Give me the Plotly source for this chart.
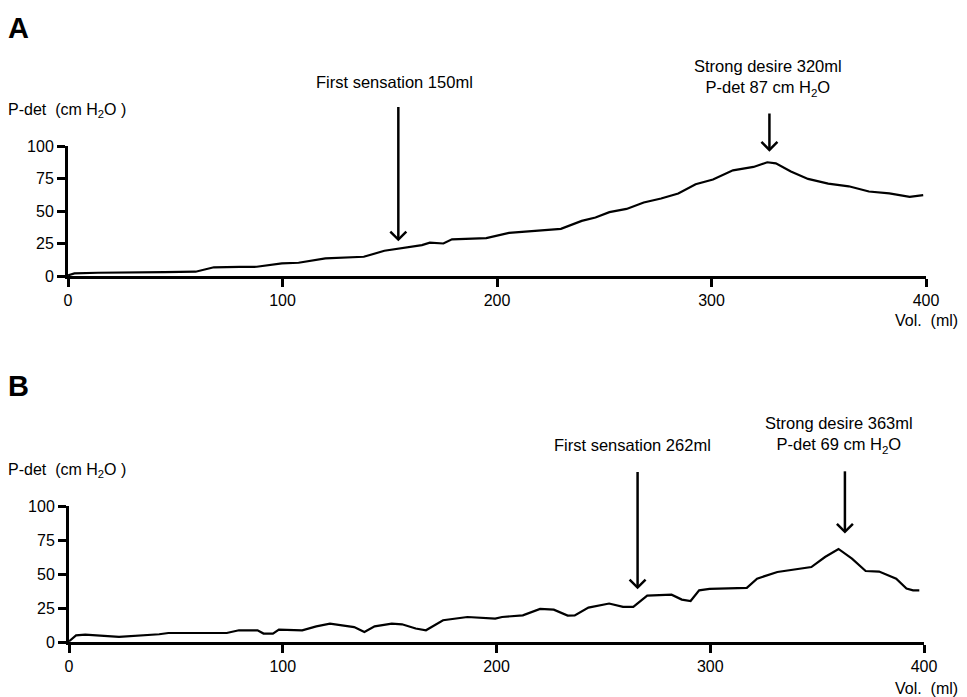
import plotly.graph_objects as go

# ---------------- data ----------------
X_TICKS = [0, 100, 200, 300, 400]
Y_TICKS = [0, 25, 50, 75, 100]
X_RANGE = [0, 400]
Y_RANGE = [0, 100]

A_vol = [0, 3, 14, 30, 45, 59.5, 68, 80, 88, 99.7, 107.5, 120, 130, 137.9, 147.5,
         157, 165, 168.7, 175, 179, 186.5, 195, 205.6, 218.6, 229.8, 239.5, 245.9,
         252.4, 260.4, 268.4, 276.5, 284.5, 292.6, 300.7, 310, 319.6, 326, 330, 337,
         345, 354.4, 364, 373.4, 382.9, 392.4, 398.7]
A_pdet = [0.5, 2, 2.5, 3, 3, 3.3, 6.7, 7, 7.1, 9.7, 10.2, 13.6, 14.2, 14.8, 19.4,
          22, 23.8, 25.6, 25, 28.2, 28.9, 29.2, 33.2, 34.8, 36.3, 42.4, 45,
          49.1, 51.6, 56.5, 59.6, 63.5, 70.6, 74.2, 81.3, 83.9, 87.5, 86.7, 80.4,
          74.7, 71.1, 69, 65, 63.5, 60.9, 62.2]

B_vol = [0, 3.3, 7.6, 23.4, 42.2, 46.5, 73.8, 79.5, 88.2, 91, 95.4, 98.2, 109.1,
         115.7, 122.1, 133.4, 138.2, 143, 151, 155.8, 162.2, 167, 175, 186.4, 199.4,
         202.6, 212.3, 220.4, 226.8, 233.3, 236.6, 243, 252.7, 259.2, 264, 270.5,
         281.9, 286.7, 290.8, 294.8, 299.7, 317.1, 321.9, 331.4, 347.3, 353.7, 360,
         366.3, 372.7, 379, 387, 391.8, 394.9, 397.8]
B_pdet = [0.5, 4.9, 5.4, 3.7, 5.7, 6.6, 6.6, 8.6, 8.6, 6.2, 6.2, 9.1, 8.6,
          11.5, 13.5, 11, 7.4, 11.5, 13.5, 13, 9.9, 8.6, 16, 18.4, 17.2,
          18.4, 19.6, 24.3, 23.8, 19.4, 19.6, 25.3, 28.3, 25.8, 25.8, 34.1,
          34.8, 31.2, 30.1, 38, 39, 39.8, 46.6, 51.5, 55.1, 62.5, 68.4,
          61.3, 52.2, 51.8, 46.6, 39.3, 38, 38]

# event arrows: volume, arrow tip (P-det units), arrow tail (P-det units)
A_events = ["First sensation 150ml", "Strong desire 320ml<br>P-det 87 cm H<sub>2</sub>O"]
A_arrow_x = [154, 327]
A_arrow_tip = [28, 97]
A_arrow_top = [130, 125]
A_text_y = [149, 152.5]
A_text_shift = [-4, -1]

B_events = ["First sensation 262ml", "Strong desire 363ml<br>P-det 69 cm H<sub>2</sub>O"]
B_arrow_x = [266, 363]
B_arrow_tip = [40, 81]
B_arrow_top = [125, 125.5]
B_text_y = [144.6, 152.5]
B_text_shift = [-5, -6]

Y_TITLE = "P-det  (cm H<sub>2</sub>O )"
X_TITLE = "Vol.  (ml)"

# ---------------- figure ----------------
W, H = 967, 697
FONT = "Liberation Sans, Arial, sans-serif"


def px_x(p):
    return p / W


def px_y(p):
    return 1 - p / H


fig = go.Figure()
fig.add_trace(go.Scatter(x=A_vol, y=A_pdet, mode="lines", xaxis="x", yaxis="y",
                         line=dict(color="black", width=2.2), showlegend=False,
                         hoverinfo="skip"))
fig.add_trace(go.Scatter(x=B_vol, y=B_pdet, mode="lines", xaxis="x2", yaxis="y2",
                         line=dict(color="black", width=2.2), showlegend=False,
                         hoverinfo="skip"))

main_ax = dict(showline=True, linecolor="black", linewidth=3, ticks="outside",
               ticklen=8, tickwidth=3, tickcolor="black", showgrid=False,
               zeroline=False, tickfont=dict(family=FONT, size=16, color="black"),
               fixedrange=True)
over_ax = dict(showline=False, ticks="inside", ticklen=8, tickwidth=3,
               tickcolor="black", showgrid=False, zeroline=False,
               showticklabels=False, fixedrange=True)

xdomA = [px_x(68), px_x(926)]
ydomA = [px_y(276), px_y(146)]
xdomB = [px_x(69), px_x(924)]
ydomB = [px_y(642), px_y(506)]

fig.update_layout(
    width=W, height=H,
    margin=dict(l=0, r=0, t=0, b=0),
    paper_bgcolor="white", plot_bgcolor="rgba(0,0,0,0)",
    template="none",
    showlegend=False,
    xaxis=dict(domain=xdomA, anchor="y", range=X_RANGE, tickvals=X_TICKS, **main_ax),
    yaxis=dict(domain=ydomA, anchor="x", range=Y_RANGE, tickvals=Y_TICKS, **main_ax),
    xaxis2=dict(domain=xdomB, anchor="y2", range=X_RANGE, tickvals=X_TICKS, **main_ax),
    yaxis2=dict(domain=ydomB, anchor="x2", range=Y_RANGE, tickvals=Y_TICKS, **main_ax),
    xaxis3=dict(overlaying="x", anchor="y", range=X_RANGE, tickvals=X_TICKS, **over_ax),
    yaxis3=dict(overlaying="y", anchor="x", side="left", range=Y_RANGE, tickvals=Y_TICKS, **over_ax),
    xaxis4=dict(overlaying="x2", anchor="y2", range=X_RANGE, tickvals=X_TICKS, **over_ax),
    yaxis4=dict(overlaying="y2", anchor="x2", side="left", range=Y_RANGE, tickvals=Y_TICKS, **over_ax),
)

annotations = []
shapes = []

# panel letters & axis titles
for letter, ytop, ytitle, yvol in [("A", 10, 111, 320), ("B", 368, 470, 688)]:
    annotations.append(dict(text=f"<b>{letter}</b>", xref="paper", yref="paper",
                            x=px_x(6), y=px_y(ytop), xanchor="left", yanchor="top",
                            showarrow=False, font=dict(family=FONT, size=29, color="black")))
    annotations.append(dict(text=Y_TITLE, xref="paper", yref="paper",
                            x=px_x(6), y=px_y(ytitle), xanchor="left", yanchor="middle",
                            showarrow=False, font=dict(family=FONT, size=16, color="black")))
    annotations.append(dict(text=X_TITLE, xref="paper", yref="paper",
                            x=px_x(960), y=px_y(yvol), xanchor="right", yanchor="middle",
                            showarrow=False, font=dict(family=FONT, size=16, color="black")))


def add_events(xref, yref, texts, xs, tips, tops, tys, shifts):
    span = Y_RANGE[1] - Y_RANGE[0]
    for t, x, tip, top, ty, sh in zip(texts, xs, tips, tops, tys, shifts):
        tip_d = (tip - Y_RANGE[0]) / span
        top_d = (top - Y_RANGE[0]) / span
        ty_d = (ty - Y_RANGE[0]) / span
        shapes.append(dict(type="line", xref=xref, yref=yref + " domain",
                           x0=x, x1=x, y0=tip_d + 0.004, y1=top_d,
                           line=dict(color="black", width=2.5)))
        shapes.append(dict(type="path", xref=xref, yref=yref + " domain",
                           xsizemode="pixel", ysizemode="pixel",
                           xanchor=x, yanchor=tip_d,
                           path="M-8,8 L0,0 L8,8",
                           line=dict(color="black", width=2.5)))
        annotations.append(dict(text=t, xref=xref, yref=yref + " domain", x=x, y=ty_d,
                                xshift=sh, xanchor="center", yanchor="middle",
                                showarrow=False,
                                font=dict(family=FONT, size=16.5, color="black")))


add_events("x", "y", A_events, A_arrow_x, A_arrow_tip, A_arrow_top, A_text_y, A_text_shift)
add_events("x2", "y2", B_events, B_arrow_x, B_arrow_tip, B_arrow_top, B_text_y, B_text_shift)

fig.update_layout(annotations=annotations, shapes=shapes)

fig.write_html(
    "out.html",
    config={"displayModeBar": False},
    post_script="document.body.style.margin='0';document.body.style.padding='0';"
                "document.documentElement.style.overflow='hidden';",
)
